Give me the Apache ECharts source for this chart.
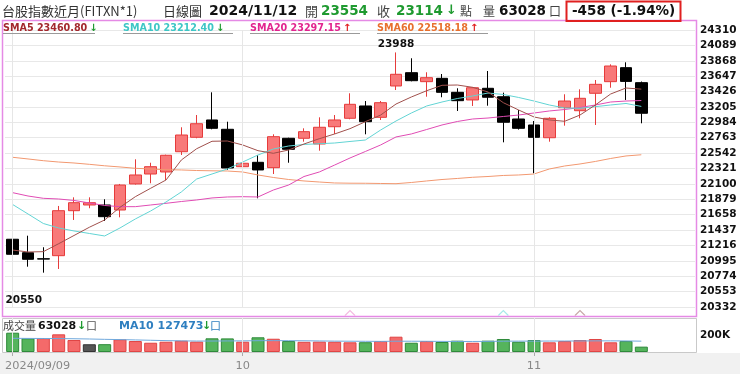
<!DOCTYPE html>
<html><head><meta charset="utf-8">
<script src="https://cdn.jsdelivr.net/npm/echarts@6/dist/echarts.min.js"></script>
<style>html,body{margin:0;padding:0;background:#fff}#c{width:740px;height:374px}</style>
</head><body><div id="c"></div>
<script>
// ---------- data ----------
const dates = ['2024/09/09','2024/09/10','2024/09/11','2024/09/12','2024/09/13','2024/09/16','2024/09/18','2024/09/19','2024/09/20','2024/09/23','2024/09/24','2024/09/25','2024/09/26','2024/09/27','2024/09/30',
'2024/10/01','2024/10/04','2024/10/07','2024/10/08','2024/10/09','2024/10/11','2024/10/14','2024/10/15','2024/10/16','2024/10/17','2024/10/18','2024/10/21','2024/10/22','2024/10/23','2024/10/24','2024/10/25','2024/10/28','2024/10/29','2024/10/30',
'2024/11/01','2024/11/04','2024/11/05','2024/11/06','2024/11/07','2024/11/08','2024/11/11','2024/11/12'];
const opens  = [21305,21112,21025,21069,21715,21797,21797,21725,22099,22242,22271,22562,22769,23018,22884,22347,22410,22333,22755,22755,22673,22921,23042,23219,23056,23506,23697,23568,23616,23415,23305,23473,23352,23032,22946,22763,23194,23151,23401,23568,23769,23554];
const highs  = [21534,21356,21190,21783,21907,21907,21879,22099,22453,22404,22520,22913,23089,23415,22993,22482,22515,22812,22763,22898,23056,23089,23401,23290,23290,23988,23904,23703,23678,23473,23490,23721,23410,23161,23003,23056,23387,23458,23592,23817,23846,23570];
const lows   = [20550,20911,20825,20878,21582,21750,21567,21620,22090,22109,22156,22515,22755,22884,22300,22012,21893,22242,22404,22706,22577,22817,23028,22812,23018,23448,23573,23352,23344,23147,23219,23223,22697,22880,22252,22706,22936,23042,22946,23481,23305,22970];
const closes = [21089,21017,21020,21715,21830,21830,21629,22084,22228,22347,22511,22802,22964,22898,22328,22396,22300,22778,22597,22850,22913,23018,23243,22993,23266,23674,23582,23625,23415,23295,23481,23344,22985,22898,22769,23042,23290,23329,23530,23793,23572,23114];
const sma5  = [21150,21122,21127,21241,21359,21477,21582,21764,21916,22037,22156,22443,22605,22712,22716,22659,22577,22539,22587,22673,22749,22817,22893,22993,23089,23247,23348,23438,23516,23520,23487,23420,23266,23161,23061,23018,22999,23089,23233,23391,23477,23460.80];
const sma10 = [21804,21668,21531,21467,21424,21388,21352,21467,21596,21711,21840,21984,22170,22242,22314,22414,22515,22601,22644,22666,22677,22687,22709,22730,22874,23003,23118,23219,23276,23326,23362,23405,23384,23341,23290,23233,23190,23186,23209,23233,23255,23212.40];
const sma20 = [21974,21926,21893,21883,21862,21826,21790,21773,21773,21797,21821,21847,21869,21898,21912,21916,21912,22012,22084,22206,22271,22371,22472,22565,22659,22774,22817,22881,22946,22996,23032,23046,23068,23089,23118,23147,23168,23197,23233,23276,23290,23297.15];
const sma60 = [22482,22458,22433,22414,22400,22381,22360,22343,22324,22314,22304,22300,22292,22288,22285,22271,22228,22192,22163,22142,22127,22113,22110,22109,22106,22103,22120,22142,22163,22178,22195,22206,22221,22228,22242,22314,22357,22386,22422,22465,22501,22518.18];
const volumes = [227000,161000,163000,208000,141000,91000,92000,149000,129000,109000,121000,133000,122000,161000,160000,121000,173000,156000,129000,120000,122000,121000,114000,115000,129000,180000,109000,129000,118000,133000,109000,133000,153000,121000,141000,114000,129000,141000,153000,114000,129000,63028];
const volDir  = [-1,-1,1,1,1,0,-1,1,1,1,1,1,1,-1,-1,1,-1,1,-1,1,1,1,1,-1,1,1,-1,1,-1,-1,1,-1,-1,-1,-1,1,1,1,1,1,-1,-1];
const volMA10 = [161000,160000,159000,158000,156000,153000,149000,146000,142000,138000,134000,131000,129000,129000,130000,131000,133000,134000,133000,132000,130000,128000,127000,126000,125000,127000,127000,126000,125000,124000,124000,125000,127000,128000,128000,129000,129000,130000,131000,131000,130000,127473];
const crossIdx  = [22, 32, 37];
const crossLine = ['SMA20', 'SMA10', 'SMA5'];
const yMin = 20332, yMax = 24310, yStep = 221;
const volMax = 400000, volStep = 200000;
const title = '台股指數近月(FITXN*1)';
const period = '日線圖';

// ---------- styling ----------
const N = dates.length;
const cats = dates.concat(['+1','+2','+3']);
const maLine  = {SMA5:'#a0504c', SMA10:'#62d4d4', SMA20:'#e04cb4', SMA60:'#f29870'};
const maText  = {SMA5:'#a3282d', SMA10:'#3ec6c6', SMA20:'#e2248f', SMA60:'#e8702e'};
const maCaret = {SMA5:'#b89090', SMA10:'#8ee4e4', SMA20:'#f0a6d8', SMA60:'#f5b090'};
const GREEN = '#1f9a30', RED = '#e02020';
const NUM = '"DejaVu Sans", Verdana, sans-serif';
const CJK = '"Noto Sans CJK TC", sans-serif';
const arrow = (a, b) => a >= b ? '↑' : '↓';
const arrowColor = (a, b) => a >= b ? RED : GREEN;
const isMonthStart = i => i === 0 || (i < N && dates[i].slice(5,7) !== dates[i-1].slice(5,7));

function txt(x, y, text, font, fill, extra) {
  return Object.assign({type:'text', x:x, y:y, silent:true, z:10,
    style:{text:text, font:font, fill:fill, align:'left', verticalAlign:'middle', textAlign:'left', textVerticalAlign:'middle'}}, extra || {});
}

const last = N - 1;
const diff = closes[last] - closes[last-1];
const pct = diff / closes[last-1] * 100;

const graphics = [
  {type:'rect', z:-5, silent:true, shape:{x:0, y:353, width:740, height:21}, style:{fill:'#f1f1f1'}},
  {type:'rect', z:5, silent:true, shape:{x:2.5, y:20.5, width:694, height:296}, style:{fill:'none', stroke:'#e58ae5', lineWidth:1.5}},
  {type:'rect', z:5, silent:true, shape:{x:2.5, y:318.5, width:694, height:34}, style:{fill:'none', stroke:'#c9c9c9', lineWidth:1}},
  {type:'rect', z:5, silent:true, shape:{x:566.5, y:1.5, width:114, height:19.5}, style:{fill:'none', stroke:'#e02020', lineWidth:2}},
  txt(2, 11, title, '13px ' + CJK, '#333'),
  txt(163, 11, period, '13px ' + CJK, '#333'),
  txt(209, 11, dates[last], 'bold 14px ' + NUM, '#111'),
  txt(305, 11, '開', '13px ' + CJK, '#444'),
  txt(321, 11, String(opens[last]), 'bold 13.5px ' + NUM, arrowColor(opens[last], closes[last-1])),
  txt(377, 11, '收', '13px ' + CJK, '#444'),
  txt(396, 11, String(closes[last]), 'bold 13.5px ' + NUM, arrowColor(closes[last], closes[last-1])),
  txt(446, 11, arrow(closes[last], closes[last-1]), 'bold 13px ' + NUM, arrowColor(closes[last], closes[last-1])),
  txt(460, 11, '點', '12px ' + CJK, '#444'),
  txt(483, 11, '量', '12px ' + CJK, '#444'),
  txt(499, 11, String(volumes[last]), 'bold 13.5px ' + NUM, '#111'),
  txt(549, 11, '口', '12px ' + CJK, '#444'),
  txt(572, 11, diff + ' (' + pct.toFixed(2) + '%)', 'bold 13.5px ' + NUM, '#111'),
];

const legendDefs = [['SMA5', sma5, 3, 95], ['SMA10', sma10, 123, 233], ['SMA20', sma20, 250, 360], ['SMA60', sma60, 377, 488]];
legendDefs.forEach(([name, arr, x0, x1]) => {
  const v = arr[last], p = arr[last-1];
  graphics.push({type:'text', x:x0, y:28, silent:true, z:10,
    style:{text:'{a|' + name + ' ' + v.toFixed(2) + '}{b|' + arrow(v, p) + '}', align:'left', verticalAlign:'middle', textAlign:'left', textVerticalAlign:'middle',
      rich:{a:{fill:maText[name], color:maText[name], font:'bold 9.6px ' + NUM}, b:{fill:arrowColor(v,p), color:arrowColor(v,p), font:'bold 10px ' + NUM, padding:[0,0,0,2]}}}});
  graphics.push({type:'line', silent:true, z:10, shape:{x1:x0, y1:33.5, x2:x1, y2:33.5}, style:{stroke:'#9a9a9a', lineWidth:1}});
});

graphics.push(
  txt(3, 326, '成交量', '11px ' + CJK, '#444'),
  txt(38, 326, String(volumes[last]), 'bold 11px ' + NUM, '#111'),
  txt(77, 326, arrow(volumes[last], volumes[last-1]), 'bold 11px ' + NUM, arrowColor(volumes[last], volumes[last-1])),
  txt(86, 326, '口', '11px ' + CJK, '#555'),
  txt(119, 326, 'MA10 ' + volMA10[last], 'bold 11px ' + NUM, '#2f7fc0'),
  txt(202, 326, arrow(volMA10[last], volMA10[last-1]), 'bold 11px ' + NUM, arrowColor(volMA10[last], volMA10[last-1])),
  txt(210, 326, '口', '11px ' + CJK, '#2f7fc0')
);

const volColors = {'1':['#f46a6a','#e04545'], '-1':['#55b45c','#2f8a3b'], '0':['#555','#333']};
const monthLines = dates.map((d,i)=>i).filter(isMonthStart).map(i => ({xAxis:i}));

const chart = echarts.init(document.getElementById('c'), null, {renderer:'canvas'});
chart.setOption({
  animation:false,
  grid:[{left:5, top:30, width:690, height:277}, {left:5, top:318, width:690, height:34}],
  xAxis:[
    {type:'category', gridIndex:0, data:cats, boundaryGap:true, axisLine:{show:false}, axisTick:{show:false}, axisLabel:{show:false}, splitLine:{show:false}},
    {type:'category', gridIndex:1, data:cats, boundaryGap:true, axisLine:{show:false},
      axisTick:{show:true, alignWithLabel:true, interval:(i)=>isMonthStart(i), length:4, lineStyle:{color:'#aaa'}},
      axisLabel:{interval:(i)=>isMonthStart(i), color:'#888', fontSize:11.3, fontFamily:NUM, margin:9,
        formatter:(v,i)=> i===0 ? '{f|' + v + '}' : String(+v.slice(5,7)),
        rich:{f:{padding:[0,0,0,50], color:'#888', fontSize:11.3, fontFamily:NUM}}},
      splitLine:{show:false}}
  ],
  yAxis:[
    {type:'value', gridIndex:0, min:yMin, max:yMax, interval:yStep, position:'right', scale:true,
      axisLine:{show:false}, axisTick:{show:false},
      axisLabel:{color:'#111', fontWeight:'bold', fontSize:10.5, fontFamily:NUM, margin:5, showMinLabel:true, showMaxLabel:true, formatter:v => String(v)},
      splitLine:{lineStyle:{color:'#e8e8e8', width:1}}},
    {type:'value', gridIndex:1, min:0, max:volMax, interval:volStep, position:'right',
      axisLine:{show:false}, axisTick:{show:false},
      axisLabel:{color:'#111', fontWeight:'bold', fontSize:10.5, fontFamily:NUM, margin:5, formatter:v => v === volStep ? (v/1000) + 'K' : ''},
      splitLine:{show:false}}
  ],
  graphic:{elements:graphics},
  series:[
    {type:'line', xAxisIndex:0, yAxisIndex:0, data:[], z:1, silent:true,
      markLine:{symbol:['none','none'], silent:true, label:{show:false}, lineStyle:{color:'#e6e6e6', type:'solid', width:1}, data:monthLines}},
    {type:'line', xAxisIndex:1, yAxisIndex:1, data:[], z:1, silent:true,
      markLine:{symbol:['none','none'], silent:true, label:{show:false}, lineStyle:{color:'#e6e6e6', type:'solid', width:1}, data:monthLines}},
    {type:'candlestick', xAxisIndex:0, yAxisIndex:0, z:2, barWidth:12,
      data: dates.map((d,i)=>[opens[i], closes[i], lows[i], highs[i]]),
      itemStyle:{color:'#f87979', color0:'#000000', borderColor:'#e63b3b', borderColor0:'#000000', borderWidth:1},
      markPoint:{symbol:'rect', symbolSize:1, silent:true, itemStyle:{color:'rgba(0,0,0,0)'},
        label:{color:'#111', fontWeight:'bold', fontSize:10.5, fontFamily:NUM},
        data:[{type:'max', valueDim:'highest', label:{position:'top', distance:2}},
              {type:'min', valueDim:'lowest', label:{position:'bottom', distance:2, offset:[11,0]}}]}},
    {type:'line', name:'SMA60', xAxisIndex:0, yAxisIndex:0, data:sma60, symbol:'none', z:3, lineStyle:{width:1, color:maLine.SMA60}},
    {type:'line', name:'SMA20', xAxisIndex:0, yAxisIndex:0, data:sma20, symbol:'none', z:3, lineStyle:{width:1, color:maLine.SMA20}},
    {type:'line', name:'SMA10', xAxisIndex:0, yAxisIndex:0, data:sma10, symbol:'none', z:3, lineStyle:{width:1, color:maLine.SMA10}},
    {type:'line', name:'SMA5', xAxisIndex:0, yAxisIndex:0, data:sma5, symbol:'none', z:3, lineStyle:{width:1, color:maLine.SMA5}},
    {type:'scatter', xAxisIndex:0, yAxisIndex:0, z:4, clip:false, silent:true,
      symbol:'path://M0,10 L10,0 L20,10', symbolSize:[10,5], symbolOffset:[0,6],
      data: crossIdx.map((ix,k)=>({value:[ix, yMin], itemStyle:{color:'rgba(0,0,0,0)', borderColor:maCaret[crossLine[k]], borderWidth:1}}))},
    {type:'bar', xAxisIndex:1, yAxisIndex:1, z:2, barWidth:13,
      data: volumes.map((v,i)=>({value:v, itemStyle:{color:volColors[String(volDir[i])][0], borderColor:volColors[String(volDir[i])][1], borderWidth:1}}))},
    {type:'line', xAxisIndex:1, yAxisIndex:1, data:volMA10, symbol:'none', z:3, lineStyle:{width:1, color:'#6fa8dc'}}
  ]
});
</script>
</body></html>
